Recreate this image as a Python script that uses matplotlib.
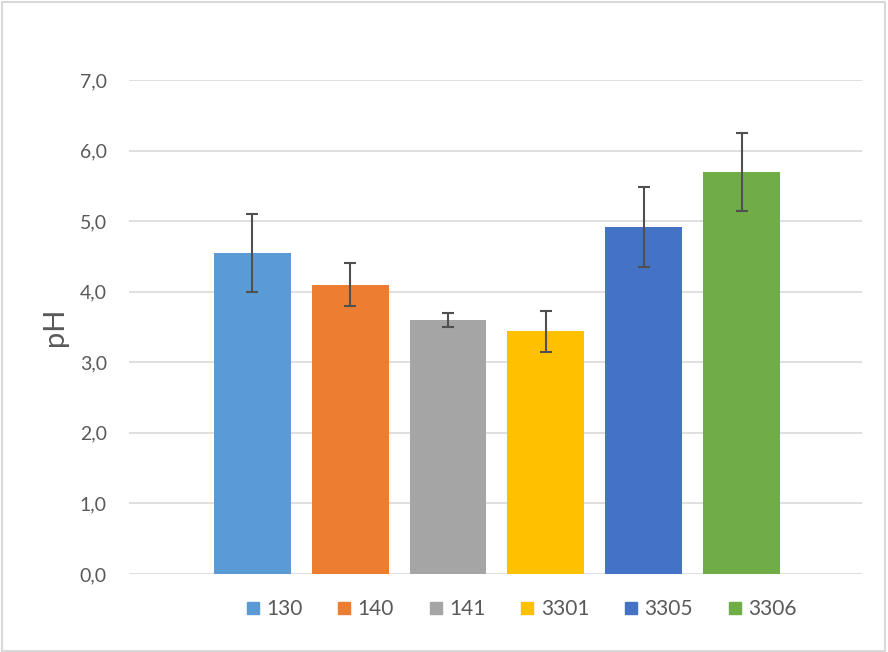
import matplotlib
matplotlib.use("Agg")
import matplotlib.pyplot as plt
from matplotlib.lines import Line2D
from matplotlib.patches import Rectangle
from matplotlib.ticker import FuncFormatter, MultipleLocator

plt.rcParams['font.family'] = ['Lato', 'DejaVu Sans']

categories = ["130", "140", "141", "3301", "3305", "3306"]
values = [4.55, 4.10, 3.60, 3.44, 4.92, 5.70]
errors = [0.55, 0.30, 0.10, 0.29, 0.57, 0.55]
colors = ["#5B9BD5", "#ED7D31", "#A5A5A5", "#FFC000", "#4472C4", "#70AD47"]

text_color = "#595959"
grid_color = "#D9D9D9"

fig = plt.figure(figsize=(8.88, 6.52), dpi=100)
ax = fig.add_axes([129/888, 1-574/652, (862-129)/888, (574-80)/652])

x = list(range(len(categories)))
ax.bar(x, values, width=0.786, color=colors, zorder=2)
ax.errorbar(x, values, yerr=errors, fmt='none', ecolor="#505050",
            elinewidth=1.5, capsize=4.0, capthick=1.5, zorder=3)

ax.set_ylim(0, 7)
ax.set_xlim(-1.26, 5 + 1.23)
ax.yaxis.set_major_locator(MultipleLocator(1))
ax.yaxis.set_major_formatter(FuncFormatter(lambda v, p: f"{v:.1f}".replace('.', ',')))
ax.grid(axis='y', color=grid_color, linewidth=1.2, zorder=0)
ax.set_axisbelow(True)
for s in ax.spines.values():
    s.set_visible(False)
ax.set_xticks([])
ax.tick_params(axis='y', length=0, pad=16, labelsize=14, labelcolor=text_color)

fig.text(55/888, 1-327/652, "pH", rotation=90, ha='center', va='center',
         fontsize=21, color=text_color)

handles = [Line2D([], [], marker='s', linestyle='none', markersize=8.5,
                  markerfacecolor=c, markeredgecolor=c) for c in colors]
fig.legend(handles, categories, loc='center', bbox_to_anchor=(521/888, 1-609/652),
           ncol=6, frameon=False, fontsize=15, handlelength=0.7, handletextpad=0.3,
           columnspacing=1.65, labelcolor=text_color)

fig.patches.append(Rectangle((0.002, 0.002), 0.995, 0.995, transform=fig.transFigure,
                             fill=False, edgecolor=grid_color, linewidth=1.5))

fig.savefig("out.png", dpi=100)
